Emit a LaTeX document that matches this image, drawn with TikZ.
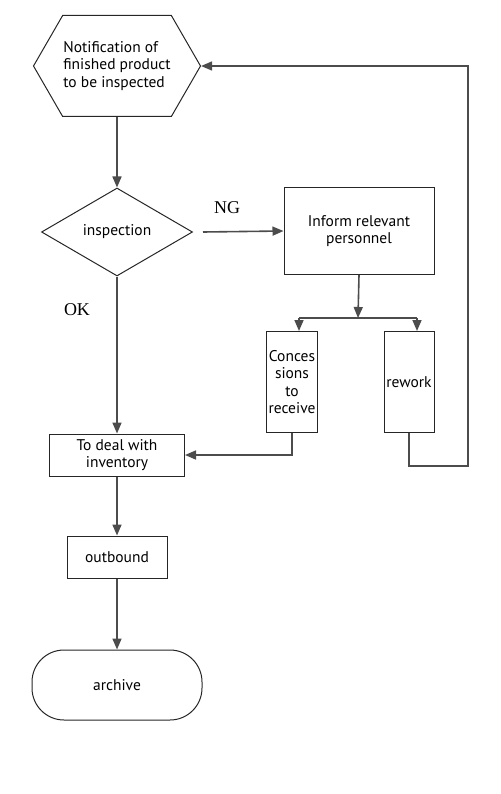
\documentclass[tikz,border=0pt]{standalone}
\usepackage{fontspec}
\setmainfont{PT Sans}
\newfontfamily\labelfont{Liberation Serif}
\usetikzlibrary{shapes.geometric,shapes.symbols,arrows.meta}

\tikzset{
    box/.style={draw=black!85, line width=1pt, inner sep=0pt,
        font=\fontsize{15.5}{17.5}\selectfont, align=center},
    flow/.style={draw=black!70, line width=1.6pt, -{Triangle[length=11pt,width=9pt]}},
    wire/.style={draw=black!70, line width=1.6pt},
    tag/.style={font=\labelfont\fontsize{18}{18}\selectfont}
}

\begin{document}
\begin{tikzpicture}[x=1pt, y=-1pt]
            \useasboundingbox (0,0) rectangle (500,794);

            \node[box, shape=signal, signal to=west and east, signal pointer angle=120,
                minimum width=167pt, minimum height=101pt, align=left] (notice) at (117,66)
                {Notification of\\finished product\\to be inspected};
            \node[box, shape=diamond, minimum width=151pt, minimum height=88pt] (check) at (117,232) {inspection};
            \node[box, minimum width=150pt, minimum height=87pt] (inform) at (359,231) {Inform relevant\\personnel};
            \node[box, minimum width=51pt, minimum height=101pt] (concede) at (292,382) {Conces\\sions\\to\\receive};
            \node[box, minimum width=50pt, minimum height=101pt] (rework) at (409,382) {rework};
            \node[box, minimum width=135pt, minimum height=42pt] (stock) at (117,455) {To deal with\\inventory};
            \node[box, minimum width=100pt, minimum height=42pt] (outbound) at (117,557) {outbound};
            \node[box, minimum width=170pt, minimum height=70pt, rounded corners=32pt] (archive) at (117,685) {archive};

            \node[tag] (ng) at (227,208) {NG};
            \node[tag] (ok) at (77,310) {OK};

            \coordinate (split) at (358,318);
            \coordinate (loop) at (468,466);

            \draw[flow] (notice.south) -- (check.north);
            \draw[flow] ([xshift=10pt]check.east) -- (inform.west);
            \draw[flow] (check.south) -- (stock.north);
            \draw[flow] (inform.south) -- (split);
            \draw[wire] ([xshift=7pt]concede.north |- split) -- ([xshift=8pt]rework.north |- split);
            \draw[flow] ([xshift=7pt]concede.north |- split) -- ([xshift=7pt]concede.north);
            \draw[flow] ([xshift=8pt]rework.north |- split) -- ([xshift=8pt]rework.north);
            \draw[flow] (concede.south) |- (stock.east);
            \draw[flow] (rework.south) |- (loop) |- (notice.east);
            \draw[flow] (stock.south) -- (outbound.north);
            \draw[flow] (outbound.south) -- (archive.north);
\end{tikzpicture}
\end{document}
